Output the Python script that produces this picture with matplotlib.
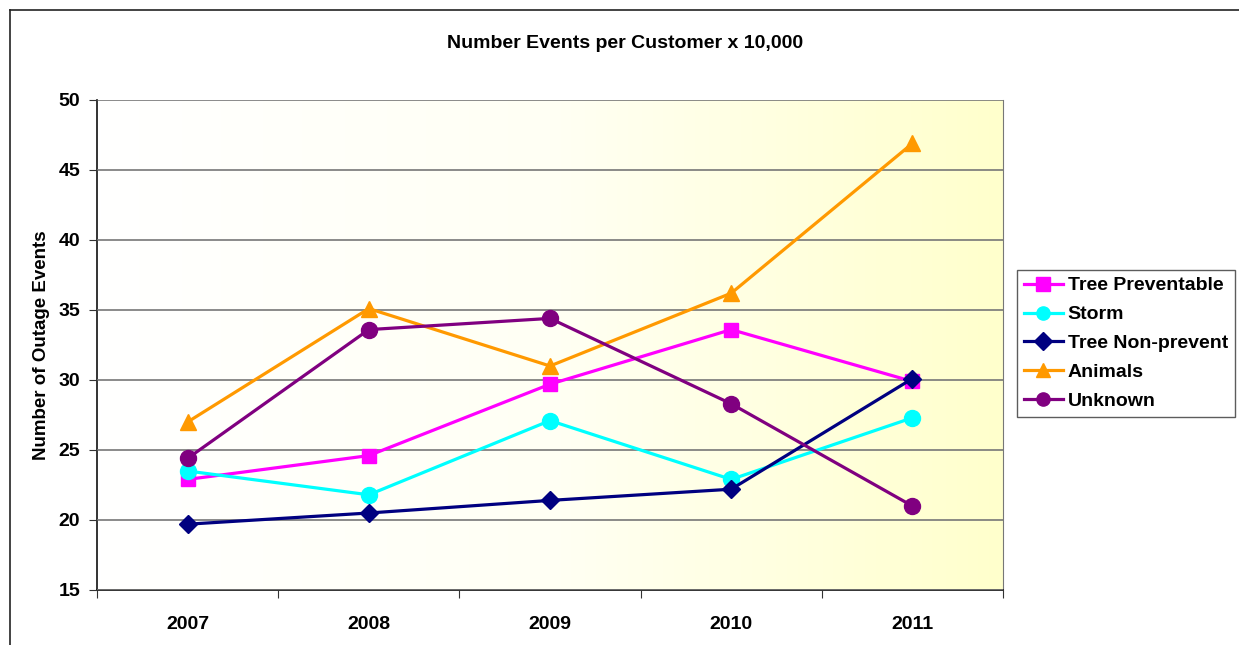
import numpy as np
import matplotlib.pyplot as plt
from matplotlib.lines import Line2D
from matplotlib.colors import LinearSegmentedColormap

plt.rcParams['font.family'] = ['Liberation Sans', 'DejaVu Sans']
plt.rcParams['font.weight'] = 'bold'

years = ["2007", "2008", "2009", "2010", "2011"]
tree_preventable = [22.9, 24.6, 29.7, 33.6, 29.9]
storm = [23.5, 21.8, 27.1, 22.9, 27.3]
tree_non_prevent = [19.7, 20.5, 21.4, 22.2, 30.1]
animals = [27.0, 35.1, 31.0, 36.2, 46.9]
unknown = [24.4, 33.6, 34.4, 28.3, 21.0]

series = [
    ("Tree Preventable", tree_preventable, "#FF00FF", "s", 10.5),
    ("Storm", storm, "#00FFFF", "o", 11.5),
    ("Tree Non-prevent", tree_non_prevent, "#000080", "D", 9),
    ("Animals", animals, "#FF9900", "^", 11.5),
    ("Unknown", unknown, "#800080", "o", 11.5),
]

fig = plt.figure(figsize=(12.39, 6.45), dpi=100)
ax = fig.add_axes([97 / 1239, 55 / 645, 906 / 1239, 490 / 645])

# outer chart border (top and left edges visible)
fig.add_artist(Line2D([10 / 1239, 10 / 1239], [0, 1 - 10 / 645], color="#222222", lw=1.2))
fig.add_artist(Line2D([10 / 1239, 1], [1 - 10 / 645, 1 - 10 / 645], color="#222222", lw=1.2))

# horizontal white -> light yellow gradient
cmap = LinearSegmentedColormap.from_list("bg", ["#FFFFFF", "#FFFFF4", "#FFFFCC"], N=256)
grad = np.linspace(0, 1, 256).reshape(1, -1)
ax.imshow(grad, cmap=cmap, aspect="auto", extent=(-0.5, 4.5, 15, 50), zorder=0)

x = np.arange(len(years))
for name, vals, col, mk, ms in series:
    ax.plot(x, vals, color=col, lw=2.3, marker=mk, markersize=ms, label=name, zorder=3)

ax.set_xlim(-0.5, 4.5)
ax.set_ylim(15, 50)
ax.set_yticks(range(15, 51, 5))
ax.yaxis.grid(True, color="#777777", lw=1.2, zorder=1)
ax.set_axisbelow(False)

ax.set_xticks(np.arange(-0.5, 4.6, 1))
ax.set_xticklabels([])
ax.set_xticks(x, minor=True)
ax.set_xticklabels(years, minor=True, fontsize=14, fontweight="bold")
ax.tick_params(axis="x", which="minor", length=0, pad=19)
ax.tick_params(axis="x", which="major", length=6, color="#333333")
ax.tick_params(axis="y", length=6, labelsize=14, color="#333333", pad=6)

ax.spines["top"].set_visible(False)
ax.spines["right"].set_color("#777777")
ax.spines["left"].set_color("#111111")
ax.spines["bottom"].set_color("#111111")
ax.spines["left"].set_linewidth(1.2)
ax.spines["bottom"].set_linewidth(1.2)

ax.set_ylabel("Number of Outage Events", fontsize=13.5, fontweight="bold", labelpad=6)
fig.text(625 / 1239, 1 - 43 / 645, "Number Events per Customer x 10,000",
         ha="center", va="center", fontsize=14, fontweight="bold")

leg = ax.legend(loc="upper left", bbox_to_anchor=(1017 / 1239, 1 - 270 / 645),
                bbox_transform=fig.transFigure, frameon=True, fancybox=False,
                edgecolor="#333333", fontsize=14, borderpad=0.35, labelspacing=0.58,
                handlelength=2.0, handletextpad=0.25, borderaxespad=0)
leg.get_frame().set_linewidth(1.0)
for h in leg.legend_handles:
    h.set_markersize(9.5)

fig.savefig("out.png", dpi=100)
